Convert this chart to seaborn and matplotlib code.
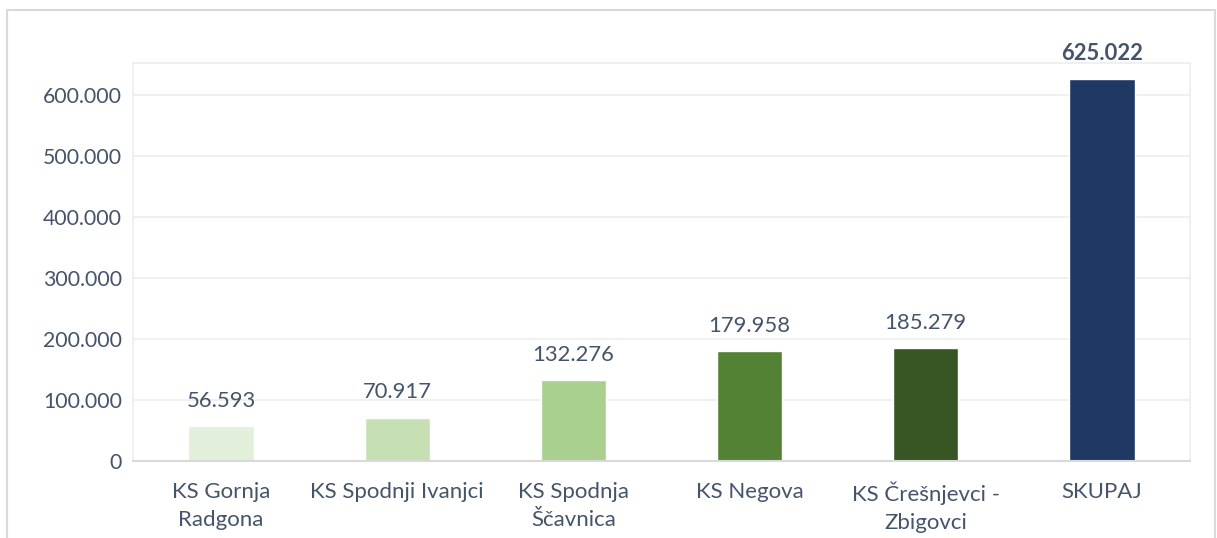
import matplotlib
matplotlib.use("Agg")
import matplotlib.pyplot as plt
import seaborn as sns
import pandas as pd
from matplotlib.patches import Rectangle

categories = ["KS Gornja\nRadgona", "KS Spodnji Ivanjci", "KS Spodnja\nŠčavnica",
              "KS Negova", "KS Črešnjevci -\nZbigovci", "SKUPAJ"]
values = [56593, 70917, 132276, 179958, 185279, 625022]
colors = ["#E2EFDA", "#C6E0B4", "#A9D08E", "#548235", "#375623", "#203864"]
yticks = [0, 100000, 200000, 300000, 400000, 500000, 600000]
ytick_labels = ["0", "100.000", "200.000", "300.000", "400.000", "500.000", "600.000"]
value_labels = ["56.593", "70.917", "132.276", "179.958", "185.279", "625.022"]

sns.set_theme(style="white")
plt.rcParams['font.family'] = ['Lato', 'DejaVu Sans']
text_color = "#44546A"

fig = plt.figure(figsize=(12.17, 5.38), dpi=100)
ax = fig.add_axes([133/1217, 1 - 461/538, (1190-133)/1217, (461-63)/538])

df = pd.DataFrame({"cat": categories, "val": values})
sns.barplot(data=df, x="cat", y="val", hue="cat", palette=colors, legend=False,
            width=0.37, ax=ax, saturation=1)

ax.set_ylim(0, 652000)
ax.set_yticks(yticks)
ax.set_yticklabels(ytick_labels)
ax.set_xlabel("")
ax.set_ylabel("")
ax.tick_params(axis="both", length=0, colors=text_color)
ax.tick_params(axis="y", pad=8, labelsize=15.3)
ax.tick_params(axis="x", pad=15, labelsize=16)
for t in ax.get_xticklabels():
    t.set_linespacing(1.5)
ax.yaxis.grid(True, color="#EDEDED", linewidth=1.2)
ax.set_axisbelow(True)
for s in ["top", "right", "left"]:
    ax.spines[s].set_color("#EDEDED")
    ax.spines[s].set_linewidth(1.2)
ax.spines["bottom"].set_color("#D9D9D9")
ax.spines["bottom"].set_linewidth(1.5)

for i, (v, lab) in enumerate(zip(values, value_labels)):
    ax.annotate(lab, (i, v), xytext=(0, 11), textcoords="offset points",
                ha="center", va="bottom", fontsize=15.8, color=text_color,
                fontweight="bold" if i == len(values) - 1 else "normal")

fig.patches.append(Rectangle((7/1217, -0.05), (1215-7)/1217, 1 - 10/538 + 0.05,
                             transform=fig.transFigure, fill=False,
                             edgecolor="#D9D9D9", linewidth=1.5))

fig.savefig("out.png", dpi=100)
